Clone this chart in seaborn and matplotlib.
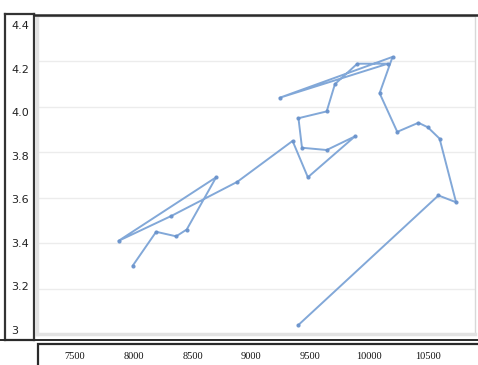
import matplotlib
matplotlib.use("Agg")
import numpy as np
import pandas as pd
import matplotlib.pyplot as plt
import seaborn as sns
from matplotlib.patches import Rectangle
from matplotlib.lines import Line2D

#%% data (points in drawing order)
x_vals = [7990, 8190, 8360, 8450, 8700, 7870, 8320, 8880, 9350, 9480,
          9880, 9640, 9430, 9400, 9640, 9710, 9900, 10160, 9240, 10200,
          10090, 10240, 10420, 10500, 10600, 10740, 10590, 9400]
y_vals = [3.30, 3.45, 3.43, 3.46, 3.69, 3.41, 3.52, 3.67, 3.85, 3.69,
          3.87, 3.81, 3.82, 3.95, 3.98, 4.10, 4.19, 4.19, 4.04, 4.22,
          4.06, 3.89, 3.93, 3.91, 3.86, 3.58, 3.61, 3.04]
x_ticks = [7500, 8000, 8500, 9000, 9500, 10000, 10500]
y_ticks = [3.0, 3.2, 3.4, 3.6, 3.8, 4.0, 4.2, 4.4]
y_labels = ["3", "3.2", "3.4", "3.6", "3.8", "4.0", "4.2", "4.4"]

df = pd.DataFrame({"x": x_vals, "y": y_vals})

#%% figure
W, H = 478, 365
sns.set_style("white")
plt.rcParams["font.family"] = ["DejaVu Sans"]

fig = plt.figure(figsize=(W / 100, H / 100), dpi=100)

def box(l, t, r, b):
    # pixel box -> figure fraction [left, bottom, width, height]
    return [l / W, 1 - b / H, (r - l) / W, (b - t) / H]

line_col = "#7ba3d6"

# main plot area
ax = fig.add_axes(box(37, 16, 475, 334))
sns.lineplot(data=df, x="x", y="y", sort=False, estimator=None, ax=ax,
             color=line_col, linewidth=1.4, marker="o", markersize=3,
             markeredgewidth=0, markerfacecolor="#6a93cc", alpha=0.95)
ax.set_xlim(7177, 10901)
ax.set_ylim(3.0, 4.4)
ax.set_yticks(y_ticks)
ax.set_yticklabels([])
ax.set_xticks(x_ticks)
ax.set_xticklabels([str(t) for t in x_ticks], fontfamily="Liberation Serif",
                   fontsize=7.5, color="#111111")
ax.tick_params(axis="x", length=0, pad=13)
ax.tick_params(axis="y", length=0)
ax.grid(axis="y", color="#ececec", linewidth=1)
ax.set_xlabel("")
ax.set_ylabel("")
for s in ax.spines.values():
    s.set_color("#d8d8d8")
    s.set_linewidth(1)
ax.spines["left"].set_linewidth(2.5)
ax.spines["left"].set_color("#e2e2e2")
ax.spines["bottom"].set_linewidth(2.5)
ax.spines["bottom"].set_color("#e2e2e2")

# y label box, its own scale so labels sit where they do in the picture
ay = fig.add_axes(box(5, 14, 34, 340))
ay.set_facecolor("white")
ay.set_xlim(0, 1)
px = 1.4 / 305
ay.set_ylim(3.0 - 10 * px, 4.4 + 11 * px)
ay.set_xticks([])
ay.set_yticks(y_ticks)
ay.set_yticklabels(y_labels, fontsize=8, color="#222222")
for lab in ay.get_yticklabels():
    lab.set_horizontalalignment("left")
ay.tick_params(axis="y", length=0, pad=-4.5)
for s in ay.spines.values():
    s.set_color("#333333")
    s.set_linewidth(1.6)

# frame lines around the picture
fig.add_artist(Line2D([34 / W, 1], [1 - 15 / H, 1 - 15 / H], color="#2a2a2a", linewidth=1.8))
fig.add_artist(Line2D([0, 1], [1 - 339.5 / H, 1 - 339.5 / H], color="#2a2a2a", linewidth=1.4))
fig.add_artist(Rectangle((38 / W, -0.02), 1, 1 - 344 / H + 0.02, transform=fig.transFigure,
                         fill=False, edgecolor="#2a2a2a", linewidth=1.6))

fig.savefig("out.png", dpi=100)
